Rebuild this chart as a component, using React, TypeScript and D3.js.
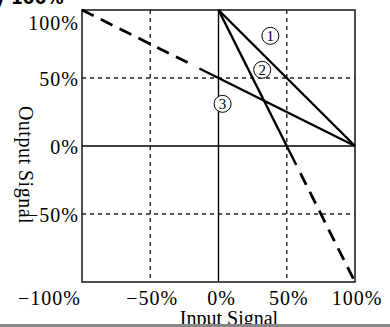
import * as d3 from "d3";

const W = 390;
const H = 327;

const xTicks = [-100, -50, 0, 50, 100];
const yTicks = [100, 50, 0, -50];
const gridX = [-50, 50];
const gridY = [50, -50];

// solid characteristic lines [x, y] in %
const line1: [number, number][] = [[0, 100], [100, 0]];
const line2: [number, number][] = [[0, 100], [57, -14]];
const line3: [number, number][] = [[-14, 57], [100, 0]];
// dashed extensions
const dash2: [number, number][] = [[60, -20], [100, -100]];
const dash3: [number, number][] = [[-100, 100], [-20, 60]];

const markers = [
  { label: "1", x: 38, y: 81 },
  { label: "2", x: 32, y: 56 },
  { label: "3", x: 3, y: 31 },
];

const SERIF = "'Liberation Serif', 'DejaVu Serif', serif";

const fmt = (v: number) => (v < 0 ? "\u2212" + Math.abs(v) + "%" : v + "%");

export default function App() {
  const x = d3.scaleLinear().domain([-100, 100]).range([82, 355]);
  const y = d3.scaleLinear().domain([-100, 100]).range([282, 10]);
  const line = d3
    .line<[number, number]>()
    .x((d) => x(d[0]))
    .y((d) => y(d[1]));

  return (
    <svg
      width={W}
      height={H}
      style={{ position: "absolute", left: 0, top: 0, background: "#fff" }}
    >
      <text x={-6} y={4} fontFamily="'DejaVu Sans', sans-serif" fontWeight="bold" fontSize={17}>
        y 100%
      </text>
      {gridX.map((v) => (
        <line key={"gx" + v} x1={x(v)} x2={x(v)} y1={y(100)} y2={y(-100)} stroke="#222" strokeWidth={1.4} strokeDasharray="4,4" />
      ))}
      {gridY.map((v) => (
        <line key={"gy" + v} x1={x(-100)} x2={x(100)} y1={y(v)} y2={y(v)} stroke="#222" strokeWidth={1.4} strokeDasharray="4,4" />
      ))}
      <line x1={x(0)} x2={x(0)} y1={y(100)} y2={y(-100)} stroke="#000" strokeWidth={1.4} />
      <line x1={x(-100)} x2={x(100)} y1={y(0)} y2={y(0)} stroke="#000" strokeWidth={1.4} />
      <rect x={x(-100)} y={y(100)} width={x(100) - x(-100)} height={y(-100) - y(100)} fill="none" stroke="#222" strokeWidth={1.6} />

      {[line1, line2, line3].map((d, i) => (
        <path key={"l" + i} d={line(d) ?? ""} fill="none" stroke="#000" strokeWidth={2.4} />
      ))}
      {[dash2, dash3].map((d, i) => (
        <path key={"d" + i} d={line(d) ?? ""} fill="none" stroke="#000" strokeWidth={2.8} strokeDasharray="13,8" />
      ))}

      {markers.map((m) => (
        <g key={m.label} transform={`translate(${x(m.x)},${y(m.y)})`}>
          <circle r={8.5} fill="#fff" stroke="#000" strokeWidth={1} />
          <text y={0.5} textAnchor="middle" dominantBaseline="central" fontFamily={SERIF} fontSize={15}>
            {m.label}
          </text>
        </g>
      ))}

      {yTicks.map((v) => (
        <text key={"yt" + v} x={x(-100) - 3} y={y(v) + (v === 100 ? 20 : 8)} textAnchor="end" fontFamily={SERIF} fontSize={20} letterSpacing={1}>
          {fmt(v)}
        </text>
      ))}
      {xTicks.map((v) => (
        <text key={"xt" + v} x={v === -100 ? x(v) - 1 : x(v) + (v === 0 ? 3 : 2)} y={305} textAnchor={v === -100 ? "end" : "middle"} fontFamily={SERIF} fontSize={20} letterSpacing={1}>
          {fmt(v)}
        </text>
      ))}

      <text x={229} y={325} textAnchor="middle" fontFamily={SERIF} fontSize={20}>
        Input Signal
      </text>
      <text transform="translate(19,165) rotate(90)" textAnchor="middle" fontFamily={SERIF} fontSize={20} letterSpacing={0.5}>
        Output Signal
      </text>
      <rect x={0} y={324} width={W} height={3} fill="#888" />
    </svg>
  );
}
